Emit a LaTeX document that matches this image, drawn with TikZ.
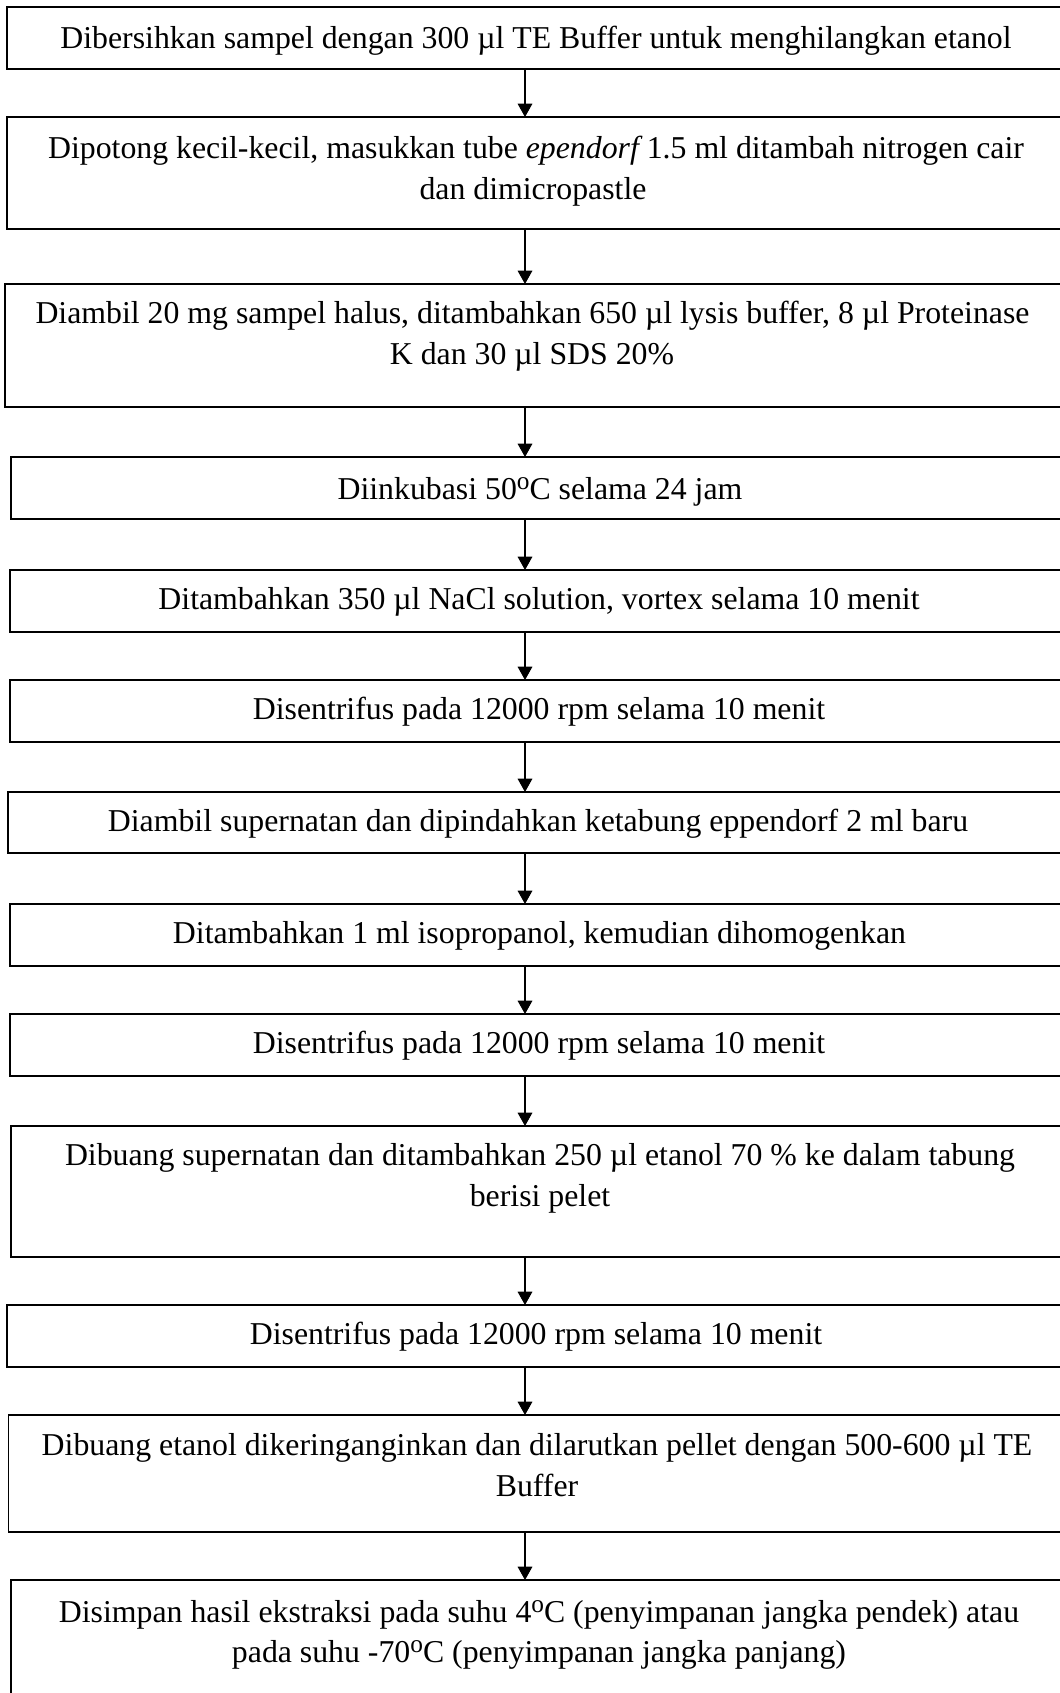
\documentclass[tikz,border=0pt]{standalone}
\usepackage{fontspec}
\setmainfont{Liberation Serif}
\usetikzlibrary{arrows.meta,calc}
\newcommand\flowbox[4]{%
  \node[stepbox, minimum width={(1066-#2)*0.75pt}, minimum height={(#4-#3)*0.75pt}]
    (#1) at ({(#2+1066)/2},{(#3+#4)/2}) {};}
\newcommand\dego{\raisebox{7pt}{\fontsize{19pt}{19pt}\selectfont o}}
\begin{document}
\begin{tikzpicture}[x=0.75pt, y=-0.75pt,
  stepbox/.style={draw=black, line width=1.2pt, rectangle, inner sep=0pt, outer sep=0pt},
  txt/.style={anchor=base, inner sep=0pt, font=\fontsize{23.85pt}{30.75pt}\selectfont},
  arr/.style={line width=0.8pt, -{Triangle[length=10pt, width=11pt]}}]
\useasboundingbox (0,0) rectangle (1060,1693);
\clip (0,0) rectangle (1060,1693);
\coordinate (ax) at (525,0);

\flowbox{b1}{6.7}{7}{69}
\node[txt] (t1) at (536,48) {Dibersihkan sampel dengan 300 µl TE Buffer untuk menghilangkan etanol};

\flowbox{b2}{6.7}{117}{229}
\node[txt] (t2a) at (536,158) {Dipotong kecil-kecil, masukkan tube {\itshape ependorf} 1.5 ml ditambah nitrogen cair};
\node[txt] (t2b) at (533,199) {dan dimicropastle};

\flowbox{b3}{4.7}{284}{407}
\node[txt] (t3a) at (532.5,323) {Diambil 20 mg sampel halus, ditambahkan 650 µl lysis buffer, 8 µl Proteinase};
\node[txt] (t3b) at (532,364) {K dan 30 µl SDS 20\%};

\flowbox{b4}{10.7}{457}{519}
\node[txt] (t4) at (540,499) {Diinkubasi 50\dego C selama 24 jam};

\flowbox{b5}{10}{570}{632}
\node[txt] (t5) at (539,609) {Ditambahkan 350 µl NaCl solution, vortex selama 10 menit};

\flowbox{b6}{10}{680}{742}
\node[txt] (t6) at (539,719) {Disentrifus pada 12000 rpm selama 10 menit};

\flowbox{b7}{8}{792}{853}
\node[txt] (t7) at (538,831) {Diambil supernatan dan dipindahkan ketabung eppendorf 2 ml baru};

\flowbox{b8}{10}{904}{966}
\node[txt] (t8) at (539.5,943) {Ditambahkan 1 ml isopropanol, kemudian dihomogenkan};

\flowbox{b9}{10}{1014}{1076}
\node[txt] (t9) at (539,1053) {Disentrifus pada 12000 rpm selama 10 menit};

\flowbox{b10}{10.7}{1126}{1257}
\node[txt] (t10a) at (540,1165) {Dibuang supernatan dan ditambahkan 250 µl etanol 70 \% ke dalam tabung};
\node[txt] (t10b) at (540,1206) {berisi pelet};

\flowbox{b11}{6.7}{1305}{1367}
\node[txt] (t11) at (536,1344) {Disentrifus pada 12000 rpm selama 10 menit};

\flowbox{b12}{8.3}{1415}{1532}
\node[txt] (t12a) at (537,1455) {Dibuang etanol dikeringanginkan dan dilarutkan pellet dengan 500-600 µl TE};
\node[txt] (t12b) at (537,1496) {Buffer};

\flowbox{b13}{11}{1580}{1710}
\node[txt] (t13a) at (539,1622) {Disimpan hasil ekstraksi pada suhu 4\dego C (penyimpanan jangka pendek) atau};
\node[txt] (t13b) at (539,1662) {pada suhu -70\dego C (penyimpanan jangka panjang)};

\foreach \a/\b in {b1/b2,b2/b3,b3/b4,b4/b5,b5/b6,b6/b7,b7/b8,b8/b9,b9/b10,b10/b11,b11/b12,b12/b13}
  \draw[arr] (\a.south -| ax) -- (\b.north -| ax);
\end{tikzpicture}
\end{document}
